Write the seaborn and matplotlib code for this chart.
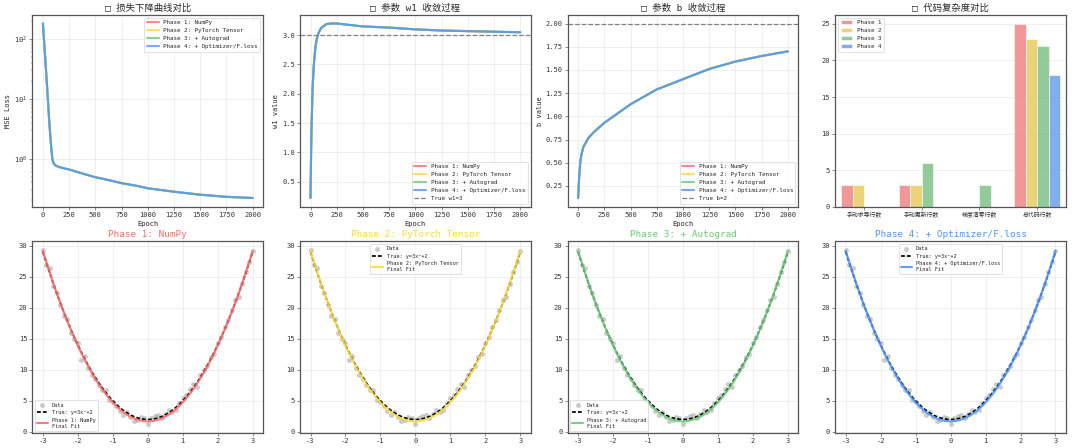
import numpy as np
import pandas as pd
import matplotlib
matplotlib.use('Agg')
import matplotlib.pyplot as plt
import seaborn as sns

# --- data ---
phases = ['Phase 1: NumPy', 'Phase 2: PyTorch Tensor', 'Phase 3: + Autograd', 'Phase 4: + Optimizer/F.loss']
phase_colors = ['#FF6B6B', '#FFD93D', '#6BCB77', '#4D96FF']

loss_epochs = [0, 10, 20, 30, 40, 50, 60, 70, 80, 90, 100, 120, 150, 200, 250, 300, 400, 500,
               600, 750, 900, 1000, 1250, 1500, 1750, 2000]
loss_vals = [182, 100, 55, 30, 16, 8.5, 4.4, 2.5, 1.5, 1.0, 0.85, 0.77, 0.73, 0.69, 0.66, 0.62,
             0.55, 0.49, 0.45, 0.39, 0.35, 0.32, 0.28, 0.25, 0.23, 0.22]

w1_epochs = [0, 5, 10, 20, 30, 40, 50, 60, 75, 100, 150, 200, 250, 300, 400, 500, 750, 1000,
             1250, 1500, 1750, 2000]
w1_vals = [0.22, 0.9, 1.45, 2.1, 2.45, 2.68, 2.84, 2.94, 3.03, 3.12, 3.19, 3.2, 3.2, 3.19, 3.17,
           3.15, 3.13, 3.10, 3.08, 3.07, 3.06, 3.05]

b_epochs = [0, 10, 20, 30, 50, 75, 100, 150, 200, 250, 500, 750, 1000, 1250, 1500, 1750, 2000]
b_vals = [0.12, 0.35, 0.5, 0.58, 0.67, 0.72, 0.77, 0.83, 0.88, 0.93, 1.13, 1.29, 1.40, 1.51,
          1.59, 1.65, 1.70]

true_w1 = 3
true_b = 2

bar_cats = ['手动求导行数', '手动更新行数', '梯度清零行数', '总代码行数']
bar_phase1 = [3, 3, 0, 25]
bar_phase2 = [3, 3, 0, 23]
bar_phase3 = [0, 6, 3, 22]
bar_phase4 = [0, 0, 0, 18]

data_x = [round(v / 10, 1) for v in range(-30, 31)]
data_y = [29.3, 26.9, 26.4, 23.5, 22.3, 20.4, 18.7, 18.2, 15.9, 15.0, 14.3, 11.6, 12.3, 10.3,
          9.1, 8.6, 7.5, 6.8, 6.7, 5.1, 4.9, 4.1, 3.4, 2.7, 3.2, 2.4, 1.7, 1.9, 2.4, 2.2, 1.2,
          2.3, 2.6, 2.7, 2.3, 2.9, 3.5, 3.2, 3.6, 4.6, 5.4, 5.9, 6.9, 7.7, 7.3, 9.2, 9.9, 10.6,
          12.1, 12.6, 14.4, 15.3, 16.9, 18.0, 19.6, 21.2, 21.7, 23.9, 25.7, 27.4, 29.2]

# --- style ---
sns.set_style('whitegrid')
plt.rcParams['font.family'] = ['DejaVu Sans Mono', 'Noto Sans CJK SC']
plt.rcParams['axes.unicode_minus'] = False
plt.rcParams['axes.edgecolor'] = '#555555'
plt.rcParams['axes.linewidth'] = 1.8
plt.rcParams['grid.color'] = '#e4e4e4'
plt.rcParams['xtick.bottom'] = True
plt.rcParams['ytick.left'] = True
plt.rcParams['xtick.major.size'] = 4
plt.rcParams['ytick.major.size'] = 4
plt.rcParams['xtick.color'] = '#333333'
plt.rcParams['ytick.color'] = '#333333'

fig, axes = plt.subplots(2, 4, figsize=(21.6, 8.96), dpi=50)
plt.subplots_adjust(left=0.030, right=0.987, top=0.967, bottom=0.033, wspace=0.16, hspace=0.18)

tick_fs = 10
title_fs = 13.5
leg_fs = 8.5
lab_fs = 10

# 1. loss curves
ax = axes[0, 0]
for name, c in zip(phases, phase_colors):
    sns.lineplot(x=loss_epochs, y=loss_vals, color=c, lw=3, alpha=0.8, label=name, ax=ax)
ax.set_yscale('log')
ax.set_title('□ 损失下降曲线对比', fontsize=title_fs)
ax.set_xlabel('Epoch', fontsize=lab_fs)
ax.set_ylabel('MSE Loss', fontsize=lab_fs)
ax.legend(loc='upper right', fontsize=leg_fs)

# 2. w1
ax = axes[0, 1]
for name, c in zip(phases, phase_colors):
    sns.lineplot(x=w1_epochs, y=w1_vals, color=c, lw=3, alpha=0.8, label=name, ax=ax)
ax.axhline(true_w1, color='gray', ls='--', lw=1.8, label='True w1=3')
ax.set_title('□ 参数 w1 收敛过程', fontsize=title_fs)
ax.set_xlabel('Epoch', fontsize=lab_fs)
ax.set_ylabel('w1 value', fontsize=lab_fs)
ax.legend(loc='lower right', fontsize=leg_fs)

# 3. b
ax = axes[0, 2]
for name, c in zip(phases, phase_colors):
    sns.lineplot(x=b_epochs, y=b_vals, color=c, lw=3, alpha=0.8, label=name, ax=ax)
ax.axhline(true_b, color='gray', ls='--', lw=1.8, label='True b=2')
ax.set_title('□ 参数 b 收敛过程', fontsize=title_fs)
ax.set_xlabel('Epoch', fontsize=lab_fs)
ax.set_ylabel('b value', fontsize=lab_fs)
ax.legend(loc='lower right', fontsize=leg_fs)

# 4. code complexity bars
ax = axes[0, 3]
bar_df = pd.DataFrame({
    'cat': bar_cats * 4,
    'phase': ['Phase 1'] * 4 + ['Phase 2'] * 4 + ['Phase 3'] * 4 + ['Phase 4'] * 4,
    'lines': bar_phase1 + bar_phase2 + bar_phase3 + bar_phase4,
})
sns.barplot(data=bar_df, x='cat', y='lines', hue='phase', palette=phase_colors, alpha=0.8,
            width=0.8, ax=ax)
ax.set_title('□ 代码复杂度对比', fontsize=title_fs)
ax.set_xlabel('')
ax.set_ylabel('')
ax.legend(loc='upper left', fontsize=leg_fs)
ax.grid(axis='x', visible=False)

for ax in axes[0]:
    ax.tick_params(labelsize=tick_fs)
axes[0, 3].tick_params(axis='x', labelsize=8.5)

# bottom row: fits
x_line = np.linspace(-3, 3, 200)
fit_w1 = w1_vals[-1]
fit_b = b_vals[-1]
leg_locs = ['lower left', 'upper center', 'lower left', 'upper center']
for i, (name, c) in enumerate(zip(phases, phase_colors)):
    ax = axes[1, i]
    sns.scatterplot(x=data_x, y=data_y, color='#999999', alpha=0.5, s=40, edgecolor=None,
                    label='Data', ax=ax)
    sns.lineplot(x=x_line, y=true_w1 * x_line ** 2 + true_b, color='black', lw=2.5,
                 dashes=False, ax=ax)
    ax.lines[-1].set_dashes((2.2, 1.2))
    ax.lines[-1].set_label('True: y=3x²+2')
    sns.lineplot(x=x_line, y=fit_w1 * x_line ** 2 + fit_b, color=c, lw=3, alpha=0.9,
                 label=name + '\nFinal Fit', ax=ax)
    ax.set_title(name, color=c, fontsize=title_fs)
    ax.legend(loc=leg_locs[i], fontsize=7.5)
    ax.tick_params(labelsize=tick_fs)
    ax.set_xticks([-3, -2, -1, 0, 1, 2, 3])
    ax.set_yticks([0, 5, 10, 15, 20, 25, 30])

fig.savefig('out.png', dpi=50)
